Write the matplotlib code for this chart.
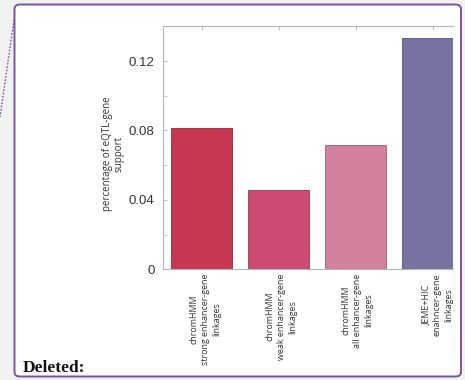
import matplotlib
matplotlib.use("Agg")
import matplotlib.pyplot as plt
from matplotlib.patches import FancyBboxPatch
from matplotlib.lines import Line2D
from matplotlib.transforms import Bbox, TransformedBbox, ScaledTranslation
from matplotlib.ticker import MultipleLocator

categories = [
    "chromHMM\nstrong enhancer-gene\nlinkages",
    "chromHMM\nweak enhancer-gene\nlinkages",
    "chromHMM\nall enhancer-gene\nlinkages",
    "JEME+HIC\nenahncer-gene\nlinkages",
]
support = [0.0817, 0.0458, 0.0718, 0.1332]
bar_colors = ["#c73752", "#cc4b73", "#d37f9e", "#7673a2"]
edge_colors = ["#8f2a3c", "#933853", "#9a5d73", "#555377"]
ytick_values = [0, 0.04, 0.08, 0.12]
ytick_labels = ["0", "0.04", "0.08", "0.12"]

W, H = 465, 380
fig = plt.figure(figsize=(W / 100, H / 100), dpi=100)
fig.patch.set_facecolor("#f1f1f1")

# comment balloon frame, kept behind the chart
frame = FancyBboxPatch((14.5 / W, 3.5 / H), (461 - 14.5) / W, (375.5 - 3.5) / H,
                       boxstyle="round,pad=0,rounding_size=0.012",
                       transform=fig.transFigure, facecolor="white",
                       edgecolor="#7b539e", linewidth=1.4, zorder=-5)
fig.patches.append(frame)
fig.lines.append(Line2D([14 / W, 0 / W], [1 - 20 / H, 1 - 117 / H],
                        transform=fig.transFigure, color="#7b539e",
                        linestyle=(0, (1.2, 1.2)), linewidth=1.0, zorder=-4))

ax = fig.add_axes([163 / W, 1 - 269.3 / H, (453 - 163) / W, (269.3 - 26) / H])
ax.set_zorder(2)
x = list(range(len(categories)))
ax.bar(x, support, width=0.8, color=bar_colors, edgecolor=edge_colors,
       linewidth=0.6, zorder=2)
ax.set_xlim(-0.5, (453 - 163) / 77.0 - 0.5)
ax.set_ylim(0, 0.1402)

for side in ["top", "left", "bottom"]:
    ax.spines[side].set_color("#b5b5b5")
    ax.spines[side].set_linewidth(0.8)
ax.spines["right"].set_visible(False)

ax.set_yticks(ytick_values)
ax.set_yticklabels(ytick_labels, fontsize=9.5, color="#333333",
                   family="Liberation Sans")
ax.yaxis.set_minor_locator(MultipleLocator(0.02))
ax.tick_params(axis="y", which="both", direction="in", length=3,
               color="#c0c0c0", pad=6)
ax.set_xticks(x)
ax.set_xticklabels(categories, rotation=90, fontsize=6.4, color="#333333",
                   family="Open Sans", ha="center", va="top",
                   multialignment="center", linespacing=1.3)
ax.tick_params(axis="x", which="both", direction="in", length=3,
               color="#c0c0c0", top=True, pad=3)

# nudge the rotated category labels slightly right, clip them at the frame
clip = TransformedBbox(Bbox([[0, 0], [454 / W, 1]]), fig.transFigure)
nudges_px = [4, 3, 2, 5]
for lbl, dx in zip(ax.get_xticklabels(), nudges_px):
    lbl.set_transform(lbl.get_transform()
                      + ScaledTranslation(dx / 100, 0, fig.dpi_scale_trans))
    lbl.set_clip_box(clip)
    lbl.set_clip_on(True)

ax.set_ylabel("percentage of eQTL-gene\nsupport", fontsize=7, color="#333333",
              family="Open Sans", linespacing=1.05)
ax.yaxis.set_label_coords(-0.134, 0.475)

fig.text(23 / W, 1 - 372 / H, "Deleted:", fontsize=12.5, fontweight="bold",
         family="Liberation Serif", color="#111111", va="baseline", ha="left")

fig.savefig("out.png", dpi=100, facecolor=fig.get_facecolor())
